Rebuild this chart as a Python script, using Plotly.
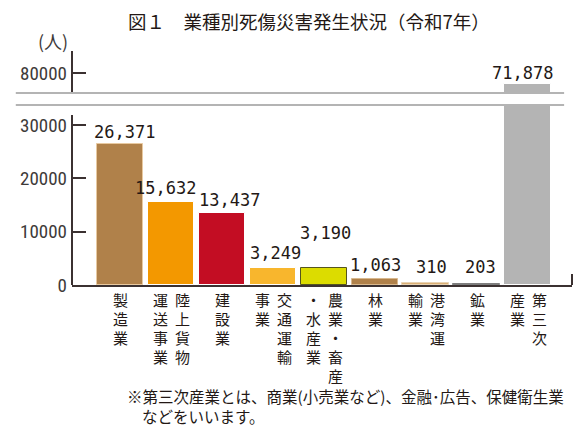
import plotly.graph_objects as go

# ---------------- data ----------------
categories = ["製造業", "陸上貨物運送事業", "建設業", "交通運輸事業", "農業・畜産・水産業",
              "林業", "港湾運輸業", "鉱業", "第三次産業"]
values = [26371, 15632, 13437, 3249, 3190, 1063, 310, 203, 71878]
value_labels = ["26,371", "15,632", "13,437", "3,249", "3,190", "1,063", "310", "203", "71,878"]
# vertical category labels, columns read right-to-left
label_columns = [["製造業"], ["陸上貨物", "運送事業"], ["建設業"], ["交通運輸", "事業"],
                 ["農業・畜産", "・水産業"], ["林業"], ["港湾運", "輸業"], ["鉱業"], ["第三次", "産業"]]
lower_ticks = [0, 10000, 20000, 30000]
lower_tick_text = ["0", "10000", "20000", "30000"]
upper_ticks = [80000]
upper_tick_text = ["80000"]
title_text = "図１　業種別死傷災害発生状況（令和7年）"
unit_text = "(人)"
note_lines = ["※第三次産業とは、商業(小売業など)、金融･広告、保健衛生業", "などをいいます。"]

# ---------------- style ----------------
bar_colors = ["#B0814A", "#F39800", "#C30D23", "#F8B62D", "#DCDC00",
              "#B0814A", "#D9AE74", "#7D7D7D", "#B4B4B4"]
bar_edges = ["#E8C9A0", "#FFFFFF", "#FFFFFF", "#FFFFFF", "#55551E",
             "#D8B88E", "#E8D2B2", "#7D7D7D", "#FFFFFF"]
label_xshift = [4.5, -5.5, 8, 3, 2, 0.5, 6, 3.5, -5]
label_yshift = [12.5, 13.6, 13, 14.7, 35, 14, 16, 17, 11.5]
col_offsets_two = [12, -10]

OFF = 8  # page body margin
W, H = 586 - OFF, 437 - OFF
# plot area in page pixels
PL, PR, PT, PB = 65, 572, 50, 285
L, R, T, B = PL - OFF, PR - OFF, PT - OFF, PB - OFF
PW, PH = R - L, B - T


def px(xp):
    return (xp - PL) / PW


def py(yp):
    return (PB - yp) / PH


lower_dom = [0, py(106)]
lower_rng = [0, (PB - 106) * 30000 / 160]
upper_dom = [py(93), 1]
upp_scale = (80000 - 71878) / 11.0
upper_rng = [71878 - (93 - 84) * upp_scale, 80000 + (73 - 50) * upp_scale]

axis_col = "#3B3131"
text_col = "#231815"
tick_font = dict(family="Liberation Sans Narrow, Roboto Condensed, Liberation Sans, sans-serif",
                 size=19, color="#3E3A39")
cjk = "Noto Sans CJK JP"

xs = list(range(len(categories)))

fig = go.Figure()
for yax in ["y", "y2"]:
    fig.add_trace(go.Bar(
        x=xs, y=values, width=0.91, yaxis=yax, xaxis="x",
        marker=dict(color=bar_colors, line=dict(color=bar_edges, width=1)),
        hoverinfo="skip", showlegend=False))

annotations = []
# value labels
for i, (v, t) in enumerate(zip(values, value_labels)):
    on_upper = v > lower_rng[1]
    annotations.append(dict(
        x=i, y=v, xref="x", yref="y2" if on_upper else "y", text=t, showarrow=False,
        xanchor="center", yanchor="middle", xshift=label_xshift[i], yshift=label_yshift[i],
        font=dict(family="DejaVu Sans Mono", size=17, color=text_col)))

# vertical category labels
for i, cols in enumerate(label_columns):
    offs = [1] if len(cols) == 1 else col_offsets_two
    for c, col in enumerate(cols):
        for j, ch in enumerate(col):
            annotations.append(dict(
                x=i, y=0, xref="x", yref="paper", text=ch, showarrow=False,
                xanchor="center", yanchor="middle", xshift=offs[c], yshift=-(14.5 + j * 19),
                font=dict(family=cjk, size=15, color=text_col)))

# title, unit, notes
annotations.append(dict(x=px(305), y=py(21), xref="paper", yref="paper", text=title_text,
                        showarrow=False, xanchor="center", yanchor="middle",
                        font=dict(family=cjk, size=18.5, color=text_col)))
annotations.append(dict(x=px(46), y=py(41.5), xref="paper", yref="paper", text=unit_text,
                        showarrow=False, xanchor="center", yanchor="middle",
                        font=dict(family=cjk, size=18, color="#3E3A39")))
annotations.append(dict(x=px(119), y=py(396), xref="paper", yref="paper", text=note_lines[0],
                        showarrow=False, xanchor="left", yanchor="middle",
                        font=dict(family=cjk, size=15.5, color=text_col)))
annotations.append(dict(x=px(134), y=py(416.5), xref="paper", yref="paper", text=note_lines[1],
                        showarrow=False, xanchor="left", yanchor="middle",
                        font=dict(family=cjk, size=15.5, color=text_col)))

shapes = [
    # y-axis lines
    dict(type="line", xref="paper", yref="paper", x0=0, x1=0, y0=py(51), y1=py(92),
         line=dict(color=axis_col, width=2)),
    dict(type="line", xref="paper", yref="paper", x0=0, x1=0, y0=0, y1=py(115),
         line=dict(color=axis_col, width=2)),
    # right end stub
    dict(type="line", xref="paper", yref="paper", x0=1, x1=1, y0=0, y1=py(274),
         line=dict(color=axis_col, width=2)),
    # axis break lines
    dict(type="line", xref="paper", yref="paper", x0=px(OFF), x1=px(564), y0=py(93), y1=py(93),
         line=dict(color="#B4B4B4", width=2)),
    dict(type="line", xref="paper", yref="paper", x0=px(OFF), x1=px(564), y0=py(105), y1=py(105),
         line=dict(color="#B4B4B4", width=2)),
]

fig.update_layout(
    width=W, height=H, margin=dict(l=L, r=W - R, t=T, b=H - B),
    paper_bgcolor="white", plot_bgcolor="white", bargap=0,
    xaxis=dict(range=[-48.5 / 51.7, 8 + 45 / 51.7], showgrid=False, zeroline=False,
               showticklabels=False, ticks="", showline=True, linecolor=axis_col, linewidth=2,
               anchor="y", fixedrange=True),
    yaxis=dict(domain=lower_dom, range=lower_rng, tickvals=lower_ticks, ticktext=lower_tick_text,
               ticks="inside", ticklen=14, tickwidth=2, tickcolor=axis_col, showgrid=False,
               zeroline=False, showline=False, tickfont=tick_font, ticklabelstandoff=4,
               anchor="x"),
    yaxis2=dict(domain=upper_dom, range=upper_rng, tickvals=upper_ticks, ticktext=upper_tick_text,
                ticks="inside", ticklen=14, tickwidth=2, tickcolor=axis_col, showgrid=False,
                zeroline=False, showline=False, tickfont=tick_font, ticklabelstandoff=4,
                anchor="x"),
    annotations=annotations, shapes=shapes,
)

fig.write_html("out.html")
